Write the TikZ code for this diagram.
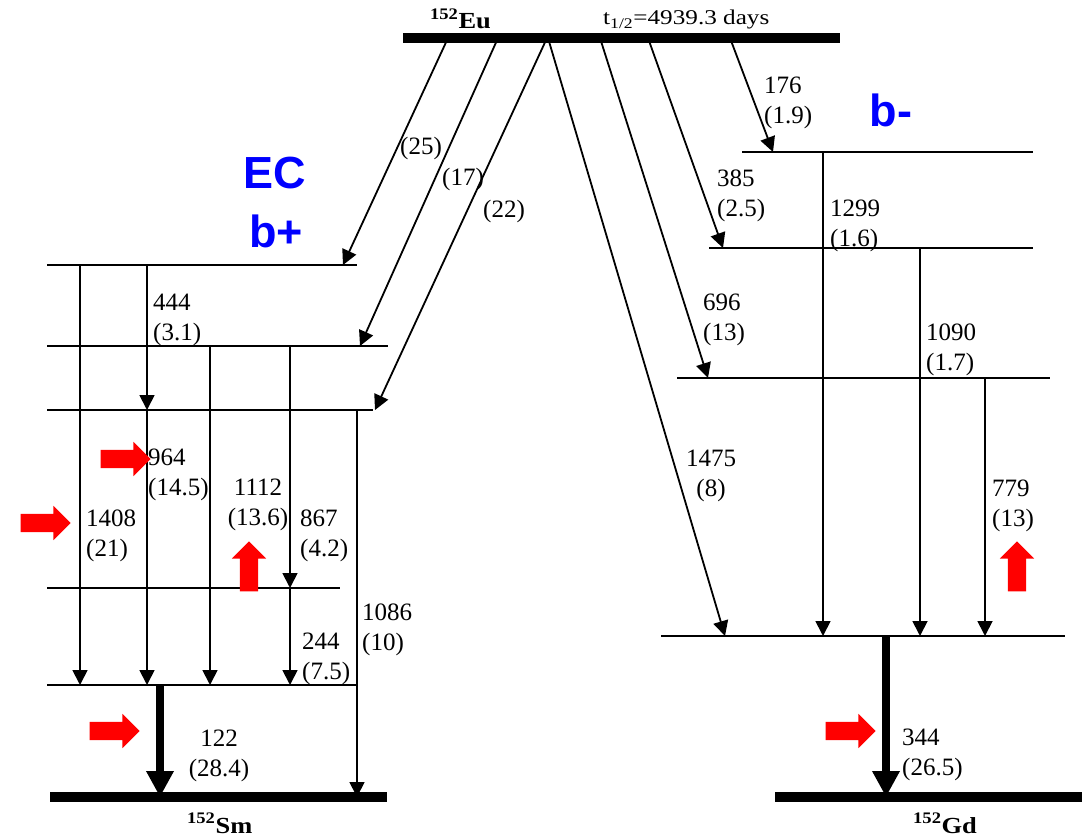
\documentclass[tikz,border=0pt]{standalone}
\usepackage{fontspec}
\setmainfont{Liberation Serif}
\newfontfamily\sansgrosso{Liberation Sans}
\usetikzlibrary{arrows.meta,shapes.arrows}

\tikzset{
  livello/.style={line width=2.4pt},
  fondo/.style={line width=10pt},
  gam/.style={line width=1.8pt,-{Triangle[width=15pt,length=15pt]}},
  gamforte/.style={line width=8pt,-{Triangle[width=26pt,length=26pt]}},
  num/.style={font=\rmfamily\fontsize{25}{30}\selectfont,align=left,inner sep=0pt,anchor=base west},
  numc/.style={num,align=center,anchor=base},
  nucl/.style={font=\rmfamily\fontsize{23}{26}\selectfont\bfseries,inner sep=0pt,anchor=base west,xscale=1.15},
  tipo/.style={font=\sansgrosso\bfseries\fontsize{45}{50}\selectfont,text=blue,inner sep=0pt},
  freccia/.style={single arrow,fill=red,draw=none,inner sep=9pt,minimum height=50pt,single arrow head extend=8pt},
}

\begin{document}
\begin{tikzpicture}[x=1pt,y=-1pt]
        \useasboundingbox (0,0) rectangle (1082,837);
        %disegno livelli
        \foreach \nome/\xa/\xb/\y in {s1/47/357/265, s2/47/388/346, s3/47/373/410, s4/47/340/588, s5/47/357/685,
                                      g1/742/1033/152, g2/709/1033/248, g3/677/1050/378, g4/661/1065/636}
          \draw[livello] (\xa,\y) coordinate (\nome) -- (\xb,\y);
        \coordinate (eu) at (403,38);
        \coordinate (s0) at (50,797);
        \coordinate (g0) at (775,797);
        %transizioni EC b+
        \draw[gam] (448,0 |- eu) -- (343,0 |- s1);
        \draw[gam] (498,0 |- eu) -- (360,0 |- s2);
        \draw[gam] (547,0 |- eu) -- (375,0 |- s3);
        %transizioni b-
        \draw[gam] (548,0 |- eu) -- (725,0 |- g4);
        \draw[gam] (600,0 |- eu) -- (708,0 |- g3);
        \draw[gam] (648,0 |- eu) -- (723,0 |- g2);
        \draw[gam] (730,0 |- eu) -- (773,0 |- g1);
        %gamma Sm
        \draw[gam] (80,0 |- s1) -- (80,0 |- s5);
        \draw[gam] (147,0 |- s1) -- (147,0 |- s3);
        \draw[gam] (147,0 |- s3) -- (147,0 |- s5);
        \draw[gam] (210,0 |- s2) -- (210,0 |- s5);
        \draw[gam] (290,0 |- s2) -- (290,0 |- s4);
        \draw[gam] (290,0 |- s4) -- (290,0 |- s5);
        \draw[gam] (357,0 |- s3) -- (357,0 |- s0);
        \draw[gamforte] (160,0 |- s5) -- (160,0 |- s0);
        %gamma Gd
        \draw[gam] (823,0 |- g1) -- (823,0 |- g4);
        \draw[gam] (920,0 |- g2) -- (920,0 |- g4);
        \draw[gam] (985,0 |- g3) -- (985,0 |- g4);
        \draw[gamforte] (886,0 |- g4) -- (886,0 |- g0);
        %livelli fondamentali
        \draw[fondo] (eu) -- (840,38);
        \draw[fondo] (s0) -- (387,797);
        \draw[fondo] (g0) -- (1082,797);
        %nuclei
        \node[nucl] (nEu) at (430,29) {\textsuperscript{152}Eu};
        \node[nucl] (nSm) at (187,833) {\textsuperscript{152}Sm};
        \node[nucl] (nGd) at (913,833) {\textsuperscript{152}Gd};
        \node[num,font=\rmfamily\fontsize{21}{24}\selectfont,xscale=1.2] (vita) at (603,25) {t\textsubscript{1/2}=4939.3 days};
        %etichette energie
        \node[num] (e444) at (153,340) {444\\(3.1)};
        \node[num] (e964) at (148,495) {964\\(14.5)};
        \node[numc] (e1112) at (258,525) {1112\\(13.6)};
        \node[num] (e1408) at (86,556) {1408\\(21)};
        \node[num] (e867) at (300,556) {867\\(4.2)};
        \node[num] (e1086) at (362,650) {1086\\(10)};
        \node[num] (e244) at (302,679) {244\\(7.5)};
        \node[numc] (e122) at (219,776) {122\\(28.4)};
        \node[num] (p25) at (400,155) {(25)};
        \node[num] (p17) at (442,186) {(17)};
        \node[num] (p22) at (483,218) {(22)};
        \node[num] (e176) at (764,124) {176\\(1.9)};
        \node[num] (e385) at (717,217) {385\\(2.5)};
        \node[num] (e1299) at (830,247) {1299\\(1.6)};
        \node[num] (e696) at (703,340) {696\\(13)};
        \node[num] (e1090) at (926,370) {1090\\(1.7)};
        \node[numc] (e1475) at (711,496) {1475\\(8)};
        \node[num] (e779) at (992,526) {779\\(13)};
        \node[num] (e344) at (902,775) {344\\(26.5)};
        %tipi di decadimento
        \node[tipo] (ec) at (275,173) {EC};
        \node[tipo] (bp) at (276,231) {b+};
        \node[tipo] (bm) at (891,110) {b-};
        %frecce rosse
        \node[freccia] (f1) at (121,459) {};
        \node[freccia] (f2) at (41,523) {};
        \node[freccia,shape border rotate=90] (f3) at (249,571) {};
        \node[freccia] (f4) at (110,731) {};
        \node[freccia] (f5) at (846,731) {};
        \node[freccia,shape border rotate=90] (f6) at (1017,571) {};
\end{tikzpicture}
\end{document}
